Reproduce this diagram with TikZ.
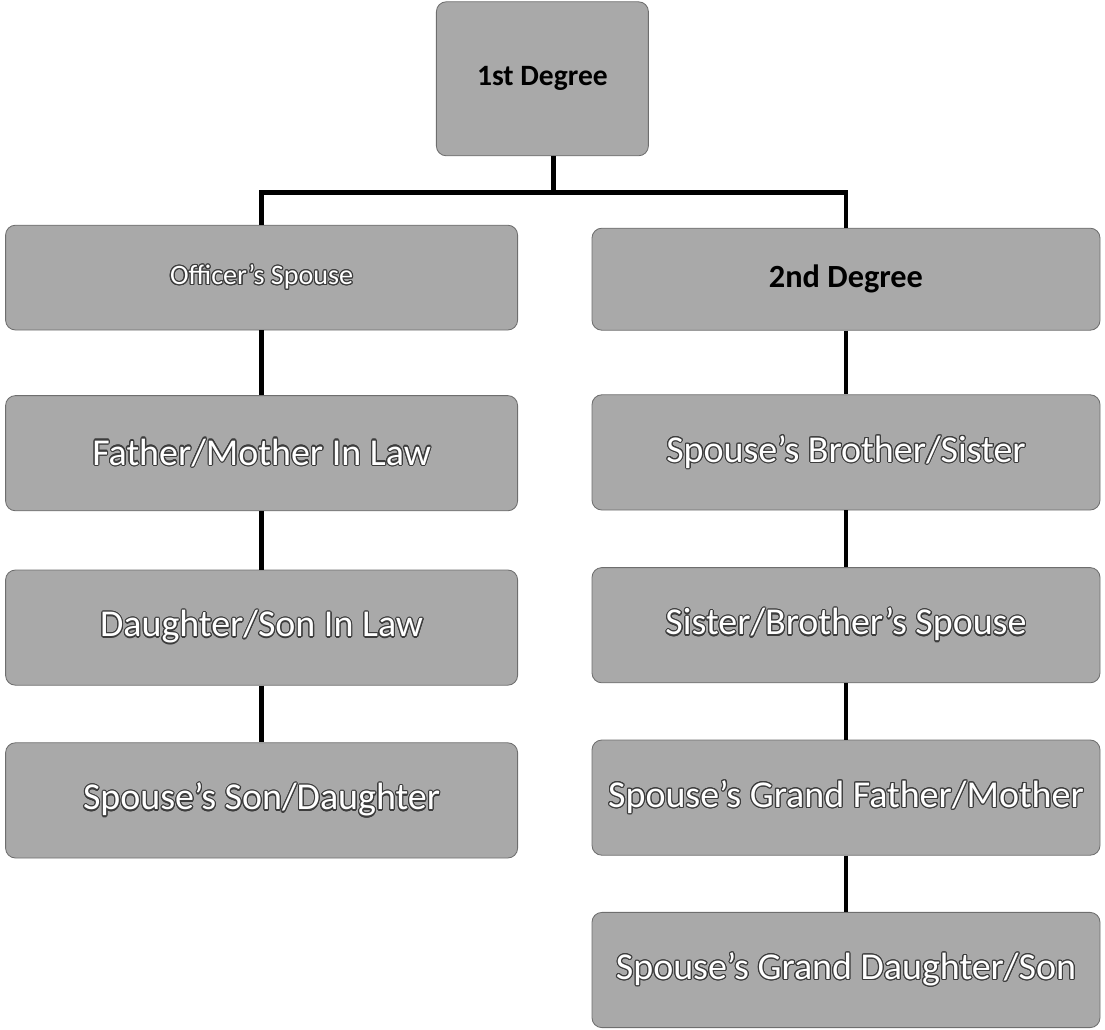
\documentclass[tikz,border=0pt]{standalone}
\usepackage{fontspec}
\setmainfont{Carlito}
\usepackage{contour}
\contourlength{0.8pt}
\definecolor{kbfill}{HTML}{A9A9A9}
\definecolor{kbedge}{HTML}{6E6E6E}
\definecolor{kbshade}{HTML}{3C3C3C}
\usetikzlibrary{positioning}
\newcommand{\wt}[1]{\contour{kbshade}{\textcolor{white}{#1}}}

\begin{document}
\begin{tikzpicture}[
  box/.style={draw=kbedge,line width=0.6pt,rounded corners=7pt,fill=kbfill,minimum width=12.8cm,minimum height=2.88cm,align=center,font=\fontsize{27}{31}\selectfont},
  head/.style={box,font=\fontsize{21}{25}\selectfont\bfseries},
  conn/.style={line width=3.4pt,black}]
\useasboundingbox (0,0) rectangle (27.625,-25.75);
% top level
\node[head,minimum width=5.3cm,minimum height=3.85cm] (first) at (13.56,-1.97) {1st Degree};
% left column
\node[box,minimum height=2.62cm,font=\fontsize{20}{24}\selectfont] (spouse) at (6.54,-6.94) {\wt{Officer's Spouse}};
\node[box] (inlaw) at (6.54,-11.33) {\wt{Father/Mother In Law}};
\node[box] (sonlaw) at (6.54,-15.69) {\wt{Daughter/Son In Law}};
\node[box] (stepchild) at (6.54,-20.01) {\wt{Spouse's Son/Daughter}};
% right column
\node[head,minimum width=12.7cm,minimum height=2.55cm,font=\fontsize{23}{27}\selectfont\bfseries] (second) at (21.15,-6.98) {2nd Degree};
\node[box,minimum width=12.7cm] (sibling) at (21.15,-11.31) {\wt{Spouse's Brother/Sister}};
\node[box,minimum width=12.7cm] (sibspouse) at (21.15,-15.63) {\wt{Sister/Brother's Spouse}};
\node[box,minimum width=12.7cm] (grandpa) at (21.15,-19.94) {\wt{Spouse's Grand Father/Mother}};
\node[box,minimum width=12.7cm] (grandkid) at (21.15,-24.25) {\wt{Spouse's Grand Daughter/Son}};
% connectors
\coordinate (split) at (13.83,-4.82);
\draw[conn] (split |- first.south) -- (split);
\draw[conn] (spouse.north) |- (split) -| (second.north);
\draw[conn] (spouse) -- (inlaw); \draw[conn] (inlaw) -- (sonlaw); \draw[conn] (sonlaw) -- (stepchild);
\draw[conn] (second) -- (sibling); \draw[conn] (sibling) -- (sibspouse);
\draw[conn] (sibspouse) -- (grandpa); \draw[conn] (grandpa) -- (grandkid);
\end{tikzpicture}
\end{document}
